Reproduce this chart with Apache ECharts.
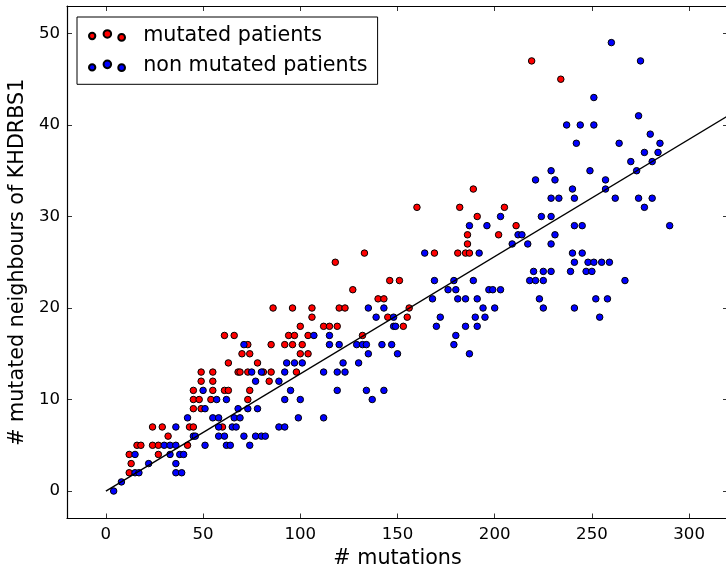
<!DOCTYPE html>
<html>
<head>
<meta charset="utf-8">
<title>mutated neighbours of KHDRBS1</title>
<script src="https://cdn.jsdelivr.net/npm/echarts@6.0.0/dist/echarts.min.js"></script>
<style>
  html, body { margin: 0; padding: 0; background: #fff; }
  #chart { width: 726px; height: 567px; }
</style>
</head>
<body>
<div id="chart"></div>
<script>
// [mutations, mutated neighbours]
var mutatedPoints = [
	[12,2],[13,3],[12,4],[16,5],[18,5],[24,7],[29,7],[32,6],[43,7],[45,7],[24,5],[27,5],[42,5],[27,4],[60,7],
	[45,9],[49,9],[45,10],[48,10],[54,10],[73,10],[45,11],[55,11],[61,11],[63,11],[74,11],[49,12],[55,12],
	[49,13],[55,13],[68,13],[69,13],[73,13],[63,14],[78,14],[81,13],[85,13],[98,13],[84,12],
	[86,20],[96,20],[106,20],[106,19],[100,18],[61,17],[66,17],[94,17],[97,17],[104,17],[73,16],[85,16],
	[92,16],[96,16],[101,16],[70,15],[74,15],[100,15],[104,15],
	[186,28],[186,27],[133,26],[169,26],[181,26],[185,26],[187,26],[118,25],[146,23],[151,23],[127,22],
	[140,21],[143,21],[120,20],[123,20],[156,20],[145,19],[155,19],[112,18],[115,18],[119,18],[153,18],[132,17],
	[160,31],[182,31],[189,33],[205,31],[191,30],[211,29],[202,28],[219,47],[234,45]
];
var nonMutatedPoints = [
	[4,0],[8,1],[15,2],[17,2],[22,3],[15,4],[36,7],[30,5],[33,5],[36,5],[33,4],[38,4],[40,4],[36,3],[36,2],
	[39,2],[45,6],[46,6],[51,5],[42,8],[55,8],[58,8],[66,8],[69,8],[58,7],[65,7],[67,7],[58,6],[61,6],[62,5],
	[64,5],[71,6],[77,6],[80,6],[74,5],[68,9],[73,9],[78,9],[51,9],[57,10],[62,10],[50,11],[77,12],[75,13],[80,13],
	[93,14],[97,14],[101,14],[122,14],[130,14],[92,13],[112,13],[119,13],[123,13],[89,12],[95,11],[119,11],
	[134,11],[143,11],[92,10],[100,10],[137,10],[99,8],[112,8],[89,7],[92,7],[82,6],[71,16],[107,17],
	[164,26],[192,26],[169,23],[179,23],[189,23],[176,22],[180,22],[168,21],[181,21],[185,21],[191,21],
	[135,20],[143,20],[194,20],[200,20],[139,19],[148,19],[172,19],[190,19],[195,19],[148,18],[149,18],
	[170,18],[185,18],[191,18],[115,17],[180,17],[115,16],[120,16],[129,16],[132,16],[134,16],[142,16],
	[147,16],[179,16],[135,15],[150,15],[187,15],
	[203,30],[187,29],[196,29],[212,28],[214,28],[231,28],[224,30],[229,30],[229,32],[233,32],[221,34],
	[231,34],[229,35],[241,29],[245,29],[290,29],[209,27],[217,27],[229,27],[240,26],[245,26],[241,25],
	[248,25],[251,25],[255,25],[259,25],[220,24],[225,24],[229,24],[239,24],[247,24],[250,24],[218,23],
	[221,23],[225,23],[267,23],[197,22],[199,22],[203,22],[223,21],[252,21],[258,21],[225,20],[241,20],[254,19],
	[251,43],[237,40],[244,40],[251,40],[274,41],[242,38],[264,38],[280,39],[285,38],[277,37],[284,37],
	[270,36],[281,36],[249,35],[273,35],[257,34],[240,33],[257,33],[241,32],[262,32],[274,32],[281,32],
	[277,31],[260,49],[275,47]
];
// fitted line end points
var fitLine = [[0,0],[320,41.0]];

var xTicks = [0,50,100,150,200,250,300];
var yTicks = [0,10,20,30,40,50];
var xRange = [-20, 320];
var yRange = [-3, 53];

var FONT = 'DejaVu Sans';
// three-dot legend icons, like matplotlib scatterpoints
var redIcon = 'path://M0.5,6.2a3.1,3.1 0 1,0 6.2,0a3.1,3.1 0 1,0 -6.2,0Z M14.8,4.2a3.7,3.7 0 1,0 7.4,0a3.7,3.7 0 1,0 -7.4,0Z M29.2,7.6a3.3,3.3 0 1,0 6.6,0a3.3,3.3 0 1,0 -6.6,0Z';
var blueIcon = 'path://M0.5,7.2a3.1,3.1 0 1,0 6.2,0a3.1,3.1 0 1,0 -6.2,0Z M14.8,4.2a3.7,3.7 0 1,0 7.4,0a3.7,3.7 0 1,0 -7.4,0Z M29.2,7.4a3.3,3.3 0 1,0 6.6,0a3.3,3.3 0 1,0 -6.6,0Z';

function makeAxis(range, ticks, pos, main) {
	var ax = {
		type: 'value',
		min: range[0],
		max: range[1],
		position: pos,
		axisLine: { show: true, onZero: false, lineStyle: { color: '#000', width: 1.2 } },
		axisTick: { show: true, inside: true, length: 5, customValues: ticks, lineStyle: { color: '#000', width: 0.8 } },
		axisLabel: { show: main, customValues: ticks, color: '#000', fontFamily: FONT, fontSize: 16.6, margin: pos == 'bottom' ? 8 : 7 },
		splitLine: { show: false }
	};
	return ax;
}

var xMain = makeAxis(xRange, xTicks, 'bottom', true);
xMain.name = '# mutations';
xMain.nameLocation = 'middle';
xMain.nameGap = 27;
xMain.nameTextStyle = { color: '#000', fontFamily: FONT, fontSize: 20.7 };
var yMain = makeAxis(yRange, yTicks, 'left', true);
yMain.name = '# mutated neighbours of KHDRBS1';
yMain.nameLocation = 'middle';
yMain.nameGap = 36;
yMain.nameTextStyle = { color: '#000', fontFamily: FONT, fontSize: 20.7 };

var option = {
	animation: false,
	backgroundColor: '#fff',
	grid: { left: 67, top: 6, width: 661, height: 512.5, outerBoundsMode: 'none', containLabel: false },
	xAxis: [ xMain, makeAxis(xRange, xTicks, 'top', false) ],
	yAxis: [ yMain, makeAxis(yRange, yTicks, 'right', false) ],
	legend: {
		orient: 'vertical',
		left: 77,
		top: 17,
		padding: [8, 10, 8, 11],
		itemGap: 9.3,
		itemWidth: 36,
		itemHeight: 11,
		backgroundColor: '#fff',
		borderColor: '#000',
		borderWidth: 1,
		formatter: '  {name}',
		textStyle: { color: '#000', fontFamily: FONT, fontSize: 20.7 },
		data: [
			{ name: 'mutated patients', icon: redIcon },
			{ name: 'non mutated patients', icon: blueIcon }
		]
	},
	series: [
		{
			name: 'mutated patients',
			type: 'scatter',
			data: mutatedPoints,
			symbol: 'circle',
			symbolSize: 6.5,
			itemStyle: { color: '#ff0000', borderColor: '#000', borderWidth: 1, opacity: 1 },
			z: 2
		},
		{
			name: 'non mutated patients',
			type: 'scatter',
			data: nonMutatedPoints,
			symbol: 'circle',
			symbolSize: 6.5,
			itemStyle: { color: '#0000ff', borderColor: '#000', borderWidth: 1, opacity: 1 },
			z: 3
		},
		{
			name: 'fit',
			type: 'line',
			data: fitLine,
			showSymbol: false,
			symbol: 'none',
			silent: true,
			lineStyle: { color: '#000', width: 1.4 },
			z: 4
		}
	]
};

var myChart = echarts.init(document.getElementById('chart'), null, { renderer: 'canvas' });
myChart.setOption(option);
</script>
</body>
</html>
